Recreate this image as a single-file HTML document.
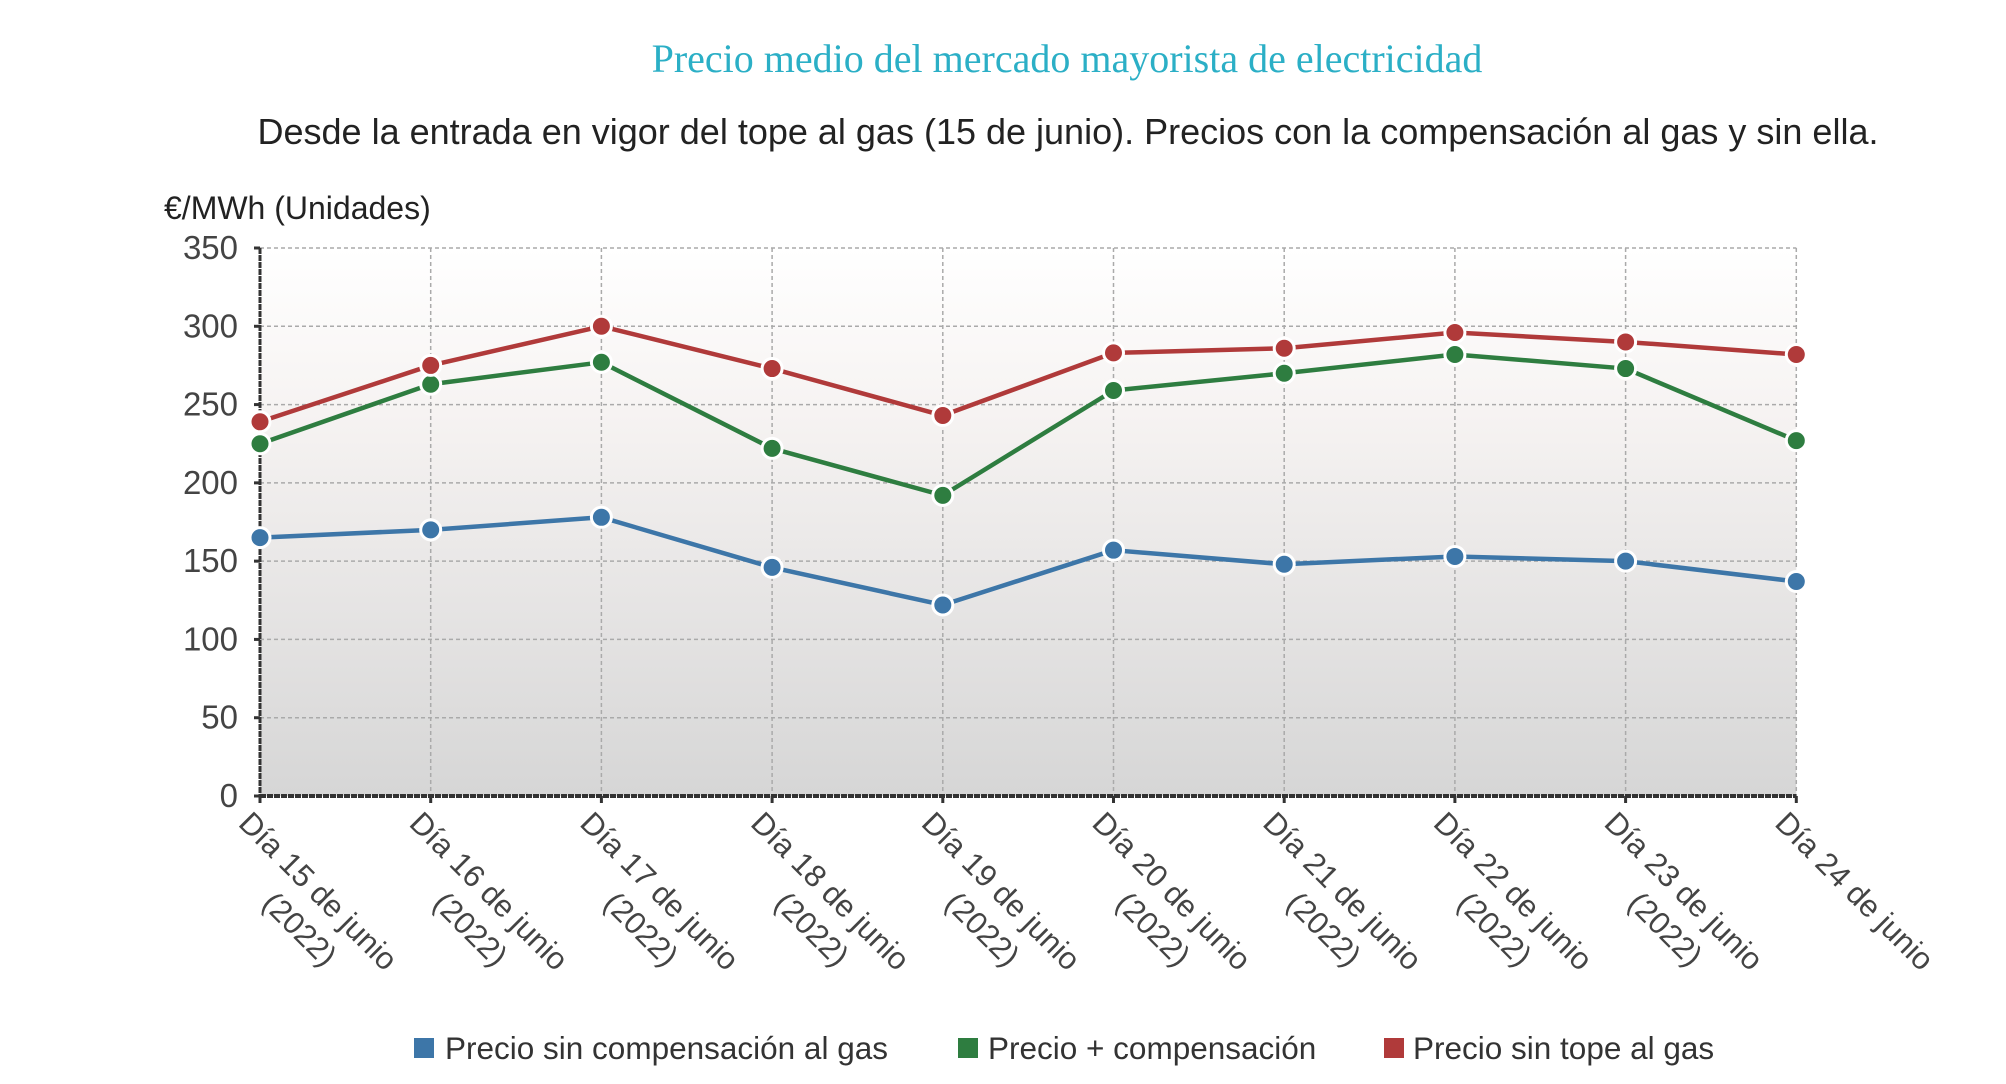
<!DOCTYPE html>
<html><head><meta charset="utf-8">
<style>
html,body{margin:0;padding:0;background:#fff;}
svg{display:block;font-family:"Liberation Sans",sans-serif;}
</style></head>
<body>
<svg id="chart" width="2006" height="1084" viewBox="0 0 2006 1084" xmlns="http://www.w3.org/2000/svg">
<defs>
<linearGradient id="bg" x1="0" y1="0" x2="0" y2="1">
<stop offset="0" stop-color="#ffffff"/>
<stop offset="0.3" stop-color="#f6f3f2"/>
<stop offset="1" stop-color="#d6d6d6"/>
</linearGradient>
</defs>
<text x="1067" y="72" text-anchor="middle" font-family="Liberation Serif, serif" font-size="40" fill="#2bafc6">Precio medio del mercado mayorista de electricidad</text>
<text x="1068" y="144" text-anchor="middle" font-size="36" fill="#222">Desde la entrada en vigor del tope al gas (15 de junio). Precios con la compensación al gas y sin ella.</text>
<text x="164" y="219" font-size="32" fill="#222">€/MWh (Unidades)</text>
<g id="plot"></g>
<g id="legend">
<rect x="414" y="1038" width="20" height="20" fill="#3d76a8"/>
<text x="445" y="1059" font-size="31.5" fill="#333">Precio sin compensación al gas</text>
<rect x="958" y="1038" width="20" height="20" fill="#2e7d40"/>
<text x="988" y="1059" font-size="31.5" fill="#333">Precio + compensación</text>
<rect x="1384" y="1038" width="20" height="20" fill="#b03a3a"/>
<text x="1413" y="1059" font-size="31.5" fill="#333">Precio sin tope al gas</text>
</g>
</svg>
<script>
const categories = ["Día 15 de junio","Día 16 de junio","Día 17 de junio","Día 18 de junio","Día 19 de junio","Día 20 de junio","Día 21 de junio","Día 22 de junio","Día 23 de junio","Día 24 de junio"];
const subLabels = ["(2022)","(2022)","(2022)","(2022)","(2022)","(2022)","(2022)","(2022)","(2022)",""];
const sinCompensacion = [165,170,178,146,122,157,148,153,150,137];
const conCompensacion = [225,263,277,222,192,259,270,282,273,227];
const sinTope = [239,275,300,273,243,283,286,296,290,282];
const yTicks = [0,50,100,150,200,250,300,350];

const NS = "http://www.w3.org/2000/svg";
const X0 = 260, STEP = 170.7, Y0 = 796, YTOP = 248, YMAX = 350;
function xPos(i){ return X0 + i*STEP; }
function yPos(v){ return Y0 - (v/YMAX)*(Y0-YTOP); }
const plot = document.getElementById('plot');
function mk(tag, attrs, parent){
  const el = document.createElementNS(NS, tag);
  for (const k in attrs) el.setAttribute(k, attrs[k]);
  (parent||plot).appendChild(el);
  return el;
}
const xEnd = xPos(categories.length-1);
const bg = mk('rect',{x:X0,y:YTOP,width:xEnd-X0,height:Y0-YTOP,fill:'url(#bg)'});



yTicks.forEach(t=>{
  const y = yPos(t);
  const g = mk('line',{x1:X0,x2:xEnd,y1:y,y2:y,stroke:'#aaa','stroke-width':1.5,'stroke-dasharray':'4,3'});
  
  
  const tk = mk('line',{x1:X0-6,x2:X0,y1:y,y2:y,stroke:'#333','stroke-width':3});
  
  
  const lb = mk('text',{x:238,y:y+11,'text-anchor':'end','font-size':33,fill:'#444'});
  lb.textContent = t;
  
  
});
categories.forEach((c,i)=>{
  const x = xPos(i);
  const g = mk('line',{x1:x,x2:x,y1:YTOP,y2:Y0,stroke:'#aaa','stroke-width':1.5,'stroke-dasharray':'4,3'});
  
  
  const tk = mk('line',{x1:x,x2:x,y1:Y0,y2:Y0+7,stroke:'#333','stroke-width':3});
  
  
  const grp = mk('g',{transform:`translate(${x-8},${Y0+14}) rotate(45)`});
  
  
  const t1 = mk('text',{x:0,y:21,'font-size':31,fill:'#444'},grp);
  t1.textContent = c;
  if (subLabels[i]){
    const t2 = mk('text',{x:118,y:61,'text-anchor':'middle','font-size':31,fill:'#444'},grp);
    t2.textContent = subLabels[i];
  }
});
const ax = mk('line',{x1:X0,x2:X0,y1:YTOP,y2:Y0,stroke:'#333','stroke-width':3,'stroke-dasharray':'6,1'});


const bx = mk('line',{x1:X0,x2:xEnd,y1:Y0,y2:Y0,stroke:'#333','stroke-width':4,'stroke-dasharray':'6,1'});



function series(vals, color, name){
  const pts = vals.map((v,i)=>xPos(i)+','+yPos(v)).join(' ');
  const pl = mk('polyline',{points:pts,fill:'none',stroke:color,'stroke-width':4.5,'stroke-linejoin':'round'});
  
  
  vals.forEach((v,i)=>{
    const c = mk('circle',{cx:xPos(i),cy:yPos(v),r:10,fill:color,stroke:'#fff','stroke-width':3});
    
    
  });
}
series(sinCompensacion,'#3d76a8','sin-compensacion');
series(conCompensacion,'#2e7d40','con-compensacion');
series(sinTope,'#b03a3a','sin-tope');
</script>
</body></html>
